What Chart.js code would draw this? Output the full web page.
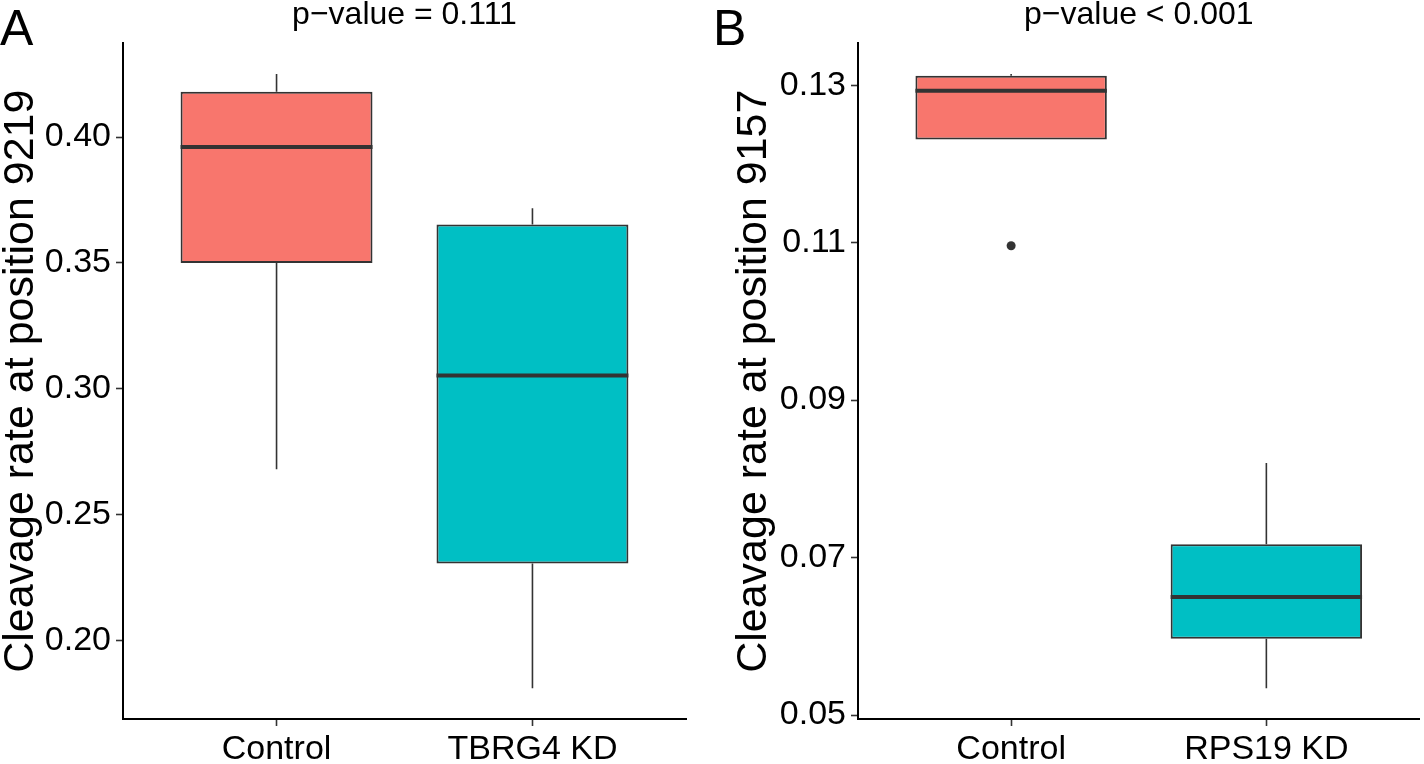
<!DOCTYPE html>
<html>
<head>
<meta charset="utf-8">
<script src="https://cdn.jsdelivr.net/npm/chart.js@4"></script>
<style>
  body { margin: 0; background: #fff; }
  .panel { position: absolute; top: 0; width: 712px; height: 764px; }
  .letter { position: absolute; font-family: "Liberation Sans", Arial, Helvetica, sans-serif; font-size: 50px; line-height: 50px; color: #000; }
</style>
</head>
<body>
<div class="panel" style="left:0"><canvas id="chartA" width="712" height="764"></canvas></div>
<div class="panel" style="left:712px"><canvas id="chartB" width="712" height="764"></canvas></div>
<div class="letter" style="left:0;top:3px">A</div>
<div class="letter" style="left:713px;top:3px">B</div>
<script>
// panel A: cleavage at 9219
const categoriesA = ['Control', 'TBRG4 KD'];
const whiskerLowA = [0.268, 0.181];
const q1A = [0.350, 0.2306];
const medianA = [0.396, 0.3053];
const q3A = [0.418, 0.3653];
const whiskerHighA = [0.425, 0.3717];
const yTicksA = [0.20, 0.25, 0.30, 0.35, 0.40];

// panel B: cleavage at 9157
const categoriesB = ['Control', 'RPS19 KD'];
const whiskerLowB = [0.1231, 0.0534];
const q1B = [0.1231, 0.0597];
const medianB = [0.1293, 0.0650];
const q3B = [0.1312, 0.0717];
const whiskerHighB = [0.1314, 0.0820];
const outlierGroupB = ['Control'];
const outlierValueB = [0.1096];
const yTicksB = [0.05, 0.07, 0.09, 0.11, 0.13];

const fills = ['#F8766D', '#00BFC4'];
const ink = '#333333';

Chart.defaults.font.family = '"Liberation Sans", Arial, Helvetica, sans-serif';
Chart.defaults.color = '#000';

// whiskers under the boxes, medians on top
const boxParts = {
  id: 'boxParts',
  beforeDatasetsDraw(chart) {
    const ds = chart.data.datasets[0];
    const bars = chart.getDatasetMeta(0).data;
    const y = chart.scales.y;
    const ctx = chart.ctx;
    ctx.save();
    ctx.strokeStyle = ink;
    ctx.lineWidth = 1.6;
    bars.forEach((bar, i) => {
      ctx.beginPath();
      ctx.moveTo(bar.x, y.getPixelForValue(ds.whiskerHigh[i]));
      ctx.lineTo(bar.x, y.getPixelForValue(ds.q3[i]));
      ctx.moveTo(bar.x, y.getPixelForValue(ds.q1[i]));
      ctx.lineTo(bar.x, y.getPixelForValue(ds.whiskerLow[i]));
      ctx.stroke();
    });
    ctx.restore();
  },
  afterDatasetsDraw(chart) {
    const ds = chart.data.datasets[0];
    const bars = chart.getDatasetMeta(0).data;
    const y = chart.scales.y;
    const ctx = chart.ctx;
    ctx.save();
    ctx.strokeStyle = ink;
    ctx.lineWidth = 4;
    bars.forEach((bar, i) => {
      const py = y.getPixelForValue(ds.median[i]);
      ctx.beginPath();
      ctx.moveTo(bar.x - bar.width / 2, py);
      ctx.lineTo(bar.x + bar.width / 2, py);
      ctx.stroke();
    });
    ctx.restore();
  }
};

function makePanel(id, p) {
  const lo = Math.min(...p.whiskerLow, ...p.outliers);
  const hi = Math.max(...p.whiskerHigh, ...p.outliers);
  const pad = (hi - lo) * 0.05;

  const datasets = [{
    type: 'bar',
    data: p.categories.map((c, i) => ({ x: i + 1, y: [p.q1[i], p.q3[i]] })),
    backgroundColor: fills,
    borderColor: ink,
    borderWidth: 2,
    borderSkipped: false,
    categoryPercentage: 0.75,
    barPercentage: 1,
    q1: p.q1, q3: p.q3, median: p.median,
    whiskerLow: p.whiskerLow, whiskerHigh: p.whiskerHigh
  }];
  if (p.outliers.length) {
    datasets.push({
      type: 'scatter',
      data: p.outlierGroups.map((g, i) => ({ x: p.categories.indexOf(g) + 1, y: p.outliers[i] })),
      pointRadius: 4.5,
      backgroundColor: ink,
      borderWidth: 0
    });
  }

  new Chart(document.getElementById(id), {
    type: 'bar',
    data: { datasets },
    plugins: [boxParts],
    options: {
      responsive: false,
      animation: false,
      layout: { padding: p.padding },
      plugins: {
        legend: { display: false },
        tooltip: { enabled: false },
        title: {
          display: true,
          text: p.title,
          fullSize: false,
          font: { size: 32, weight: 'normal', lineHeight: 0.95 },
          padding: { top: 0, bottom: 13 },
          color: '#000'
        }
      },
      scales: {
        x: {
          type: 'linear',
          min: 0.4,
          max: 2.6,
          offset: false,
          afterBuildTicks: s => { s.ticks = p.categories.map((c, i) => ({ value: i + 1 })); },
          afterFit: s => { s.height = 45; },
          ticks: {
            autoSkip: false, maxRotation: 0, minRotation: 0,
            padding: 3,
            font: { size: 34 },
            color: '#000',
            callback: v => p.categories[v - 1]
          },
          grid: { display: true, offset: false, drawOnChartArea: false, drawTicks: true, tickLength: 7, tickColor: ink, tickWidth: 1.6 },
          border: { display: true, color: '#000', width: 2 }
        },
        y: {
          min: lo - pad,
          max: hi + pad,
          afterBuildTicks: s => { s.ticks = p.yTicks.map(v => ({ value: v })); },
          afterFit: s => { s.width = p.yWidth; },
          ticks: {
            padding: 5,
            font: { size: 34 },
            color: '#000',
            callback: v => v.toFixed(2)
          },
          grid: { display: true, drawOnChartArea: false, drawTicks: true, tickLength: 7, tickColor: ink, tickWidth: 1.6 },
          border: { display: true, color: '#000', width: 2 },
          title: {
            display: true,
            text: p.yTitle,
            font: { size: 43, lineHeight: 1 },
            padding: 0,
            color: '#000'
          }
        }
      }
    }
  });
}

makePanel('chartA', {
  categories: categoriesA,
  whiskerLow: whiskerLowA, q1: q1A, median: medianA, q3: q3A, whiskerHigh: whiskerHighA,
  outlierGroups: [], outliers: [],
  yTicks: yTicksA,
  title: 'p\u2212value = 0.111',
  yTitle: 'Cleavage rate at position 9219',
  yWidth: 123,
  padding: { left: 0, right: 26, top: 0, bottom: 0 }
});

makePanel('chartB', {
  categories: categoriesB,
  whiskerLow: whiskerLowB, q1: q1B, median: medianB, q3: q3B, whiskerHigh: whiskerHighB,
  outlierGroups: outlierGroupB, outliers: outlierValueB,
  yTicks: yTicksB,
  title: 'p\u2212value < 0.001',
  yTitle: 'Cleavage rate at position 9157',
  yWidth: 125,
  padding: { left: 21, right: 2, top: 0, bottom: 0 }
});
</script>
</body>
</html>
